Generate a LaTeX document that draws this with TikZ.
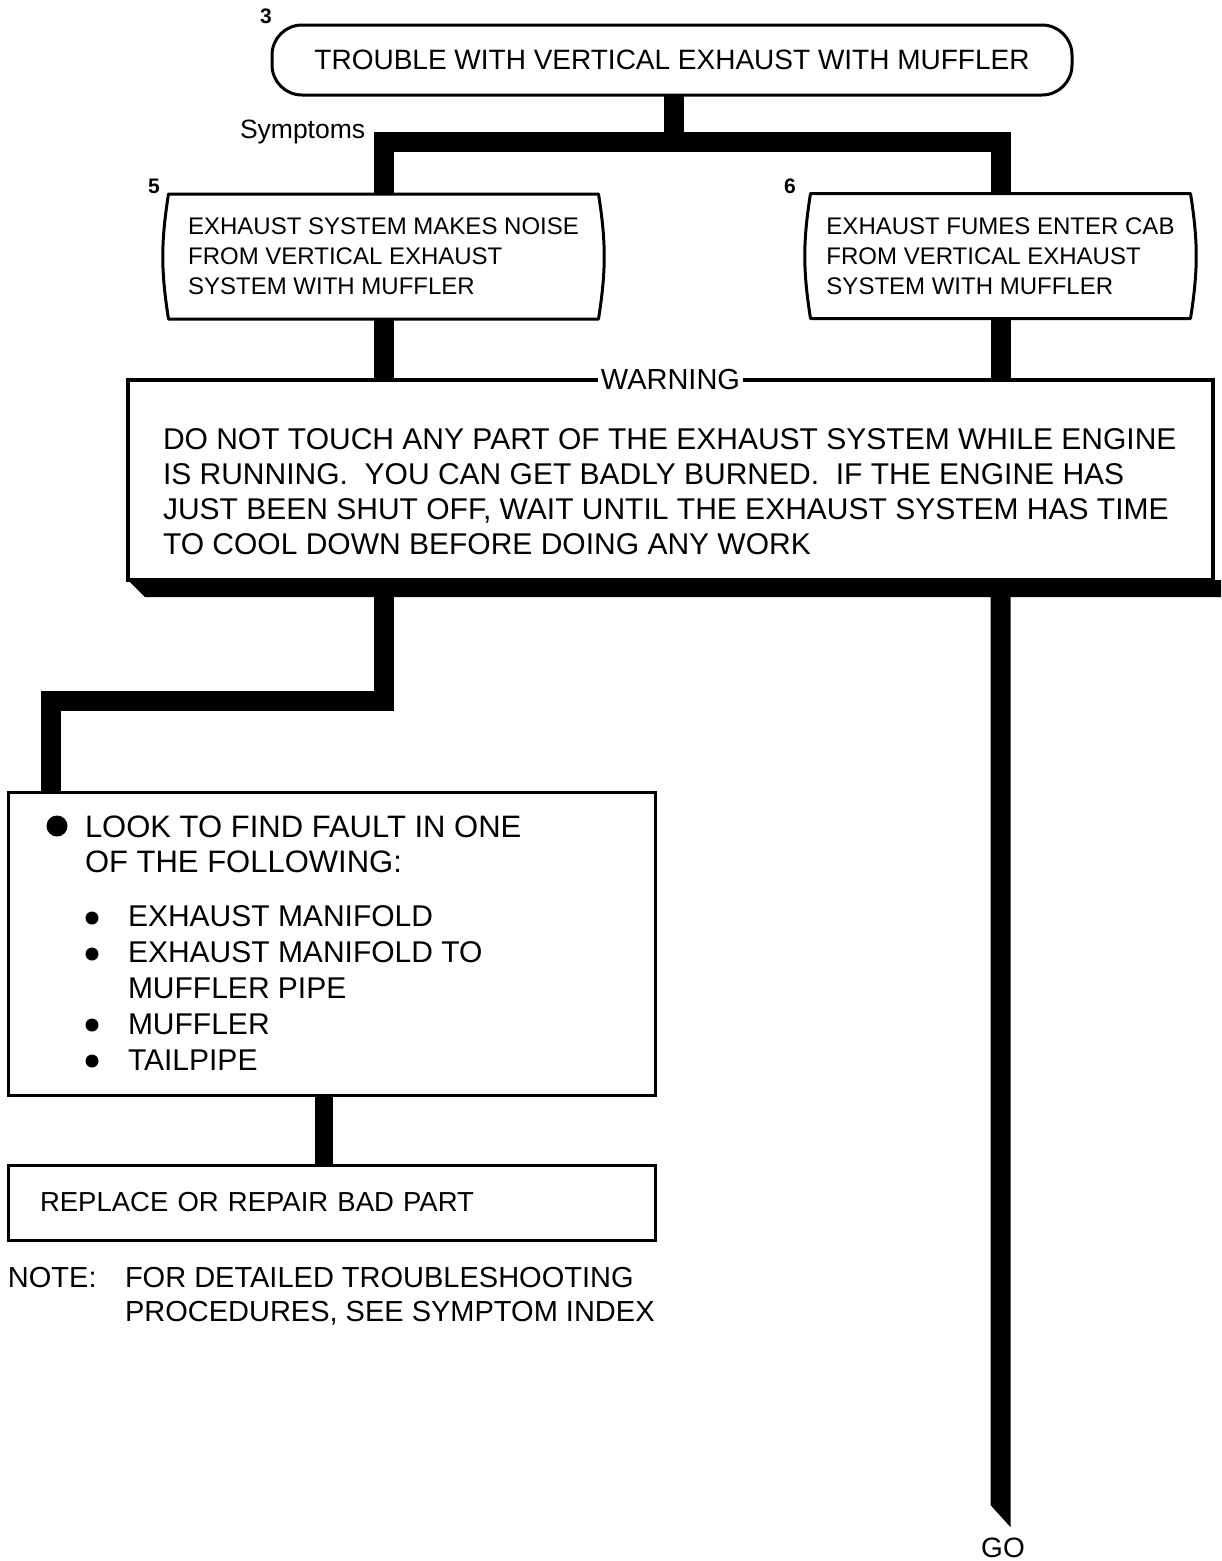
\documentclass[tikz,border=0pt]{standalone}
\usepackage{fontspec}
\setmainfont{Liberation Sans}
\usetikzlibrary{calc}
\begin{document}
\begin{tikzpicture}[x=1pt,y=-1pt,
  bar/.style={line width=20pt, line join=miter, line cap=butt},
  box/.style={draw, line width=3pt, outer sep=0pt, inner sep=0pt},
  num/.style={font=\fontsize{21}{21}\selectfont\bfseries, inner sep=0pt},
  txt/.style={inner sep=0pt, outer sep=0pt},
  symbox/.style={minimum width=#1, minimum height=125pt, inner sep=0pt, outer sep=0pt, align=left, font=\fontsize{24}{30}\selectfont},
  outline/.style={line width=3pt, line join=round},
  dotbig/.style={circle, fill, minimum size=21pt, inner sep=0pt},
  dotsmall/.style={circle, fill, minimum size=13pt, inner sep=0pt},
]
\useasboundingbox (0,0) rectangle (1221,1561);

% title
\node[box, rounded corners=30pt, minimum width=800pt, minimum height=70pt, font=\fontsize{28}{28}\selectfont] (title) at (672,60) {TROUBLE WITH VERTICAL EXHAUST WITH MUFFLER};
\node[num] (n3) at (266,16) {3};
\node[txt, anchor=base west, font=\fontsize{26.5}{26.5}\selectfont] (symlabel) at (240,138) {Symptoms};
\coordinate (hub) at (674,142);

% symptom boxes
\node[symbox=430pt] (s5) at (383.5,256.5) {EXHAUST SYSTEM MAKES NOISE\\FROM VERTICAL EXHAUST\\SYSTEM WITH MUFFLER};
\node[symbox=380pt] (s6) at (1000.5,256) {EXHAUST FUMES ENTER CAB\\FROM VERTICAL EXHAUST\\SYSTEM WITH MUFFLER};
\draw[outline] (s5.north west) -- (s5.north east) to[out=-81,in=81] (s5.south east) -- (s5.south west) to[out=99,in=-99] (s5.north west) -- cycle;
\draw[outline] (s6.north west) -- (s6.north east) to[out=-81,in=81] (s6.south east) -- (s6.south west) to[out=99,in=-99] (s6.north west) -- cycle;
\node[num] (n5) at (154,186) {5};
\node[num] (n6) at (790,186) {6};

\draw[bar] (title.south -| hub) -- (hub);
\draw[bar] (s5.north) -- (s5.north |- hub) -- (s6.north |- hub) -- (s6.north);

% warning box
\node[box, line width=4.5pt, minimum width=1085pt, minimum height=200pt] (warn) at (670.5,480) {};
\coordinate (edge) at (1221,597);
\fill (warn.south west) -- ++(17,17) -- (edge) -- (edge |- warn.south) -- cycle;
\draw[bar] (s5.south) -- (s5.south |- warn.north);
\draw[bar] (s6.south) -- (s6.south |- warn.north);
\node[fill=white, inner xsep=3pt, inner ysep=2pt, font=\fontsize{29}{29}\selectfont] (wlabel) at (warn.north) {WARNING};
\node[txt, anchor=north west, align=left, font=\fontsize{30}{35}\selectfont] (wtext) at (163,429) {DO NOT TOUCH ANY PART OF THE EXHAUST SYSTEM WHILE ENGINE\\IS RUNNING.\ \ YOU CAN GET BADLY BURNED.\ \ IF THE ENGINE HAS\\JUST BEEN SHUT OFF, WAIT UNTIL THE EXHAUST SYSTEM HAS TIME\\TO COOL DOWN BEFORE DOING ANY WORK};

% list box
\node[box, minimum width=647pt, minimum height=303pt] (list) at (331.5,943.5) {};
\coordinate (bend) at (51,701);
\draw[bar] (s5.south |- edge) -- (s5.south |- bend) -- (bend) -- (bend |- list.north);
\node[dotbig] (b0) at (57,826) {};
\node[txt, anchor=base west, font=\fontsize{31}{31}\selectfont] (l1) at (85,837) {LOOK TO FIND FAULT IN ONE};
\node[txt, anchor=base west, font=\fontsize{31}{31}\selectfont] (l2) at (85,872) {OF THE FOLLOWING:};
\node[dotsmall] (b1) at (92,918) {};
\node[dotsmall] (b2) at (92,954) {};
\node[dotsmall] (b3) at (92,1025) {};
\node[dotsmall] (b4) at (92,1061) {};
\node[txt, anchor=base west, font=\fontsize{30}{30}\selectfont] (i1) at (128,926) {EXHAUST MANIFOLD};
\node[txt, anchor=base west, font=\fontsize{30}{30}\selectfont] (i2) at (128,962) {EXHAUST MANIFOLD TO};
\node[txt, anchor=base west, font=\fontsize{30}{30}\selectfont] (i3) at (128,998) {MUFFLER PIPE};
\node[txt, anchor=base west, font=\fontsize{30}{30}\selectfont] (i4) at (128,1034) {MUFFLER};
\node[txt, anchor=base west, font=\fontsize{30}{30}\selectfont] (i5) at (128,1070) {TAILPIPE};

% replace box
\node[box, minimum width=647pt, minimum height=75pt, text width=583pt, inner xsep=32pt, align=left, font=\fontsize{27.5}{27.5}\selectfont] (rep) at (331.5,1202.5) {REPLACE OR REPAIR BAD PART};
\draw[bar, line width=18pt] ([xshift=-7.5pt]list.south) -- ([xshift=-7.5pt]list.south |- rep.north);

% note
\node[txt, anchor=north west, font=\fontsize{29}{34}\selectfont] (notel) at (8,1267) {NOTE:};
\node[txt, anchor=north west, align=left, font=\fontsize{29}{34}\selectfont] (notet) at (125,1267) {FOR DETAILED TROUBLESHOOTING\\PROCEDURES, SEE SYMPTOM INDEX};

% GO
\node[txt, font=\fontsize{28}{28}\selectfont] (go) at (1003,1548) {GO};
\coordinate (gotip) at ([yshift=11pt]go.north);
\fill ([xshift=-10pt]s6.south |- edge) -- ([xshift=-10pt,yshift=22pt]s6.south |- gotip) -- ([xshift=10pt]s6.south |- gotip) -- ([xshift=10pt]s6.south |- edge) -- cycle;
\end{tikzpicture}
\end{document}
